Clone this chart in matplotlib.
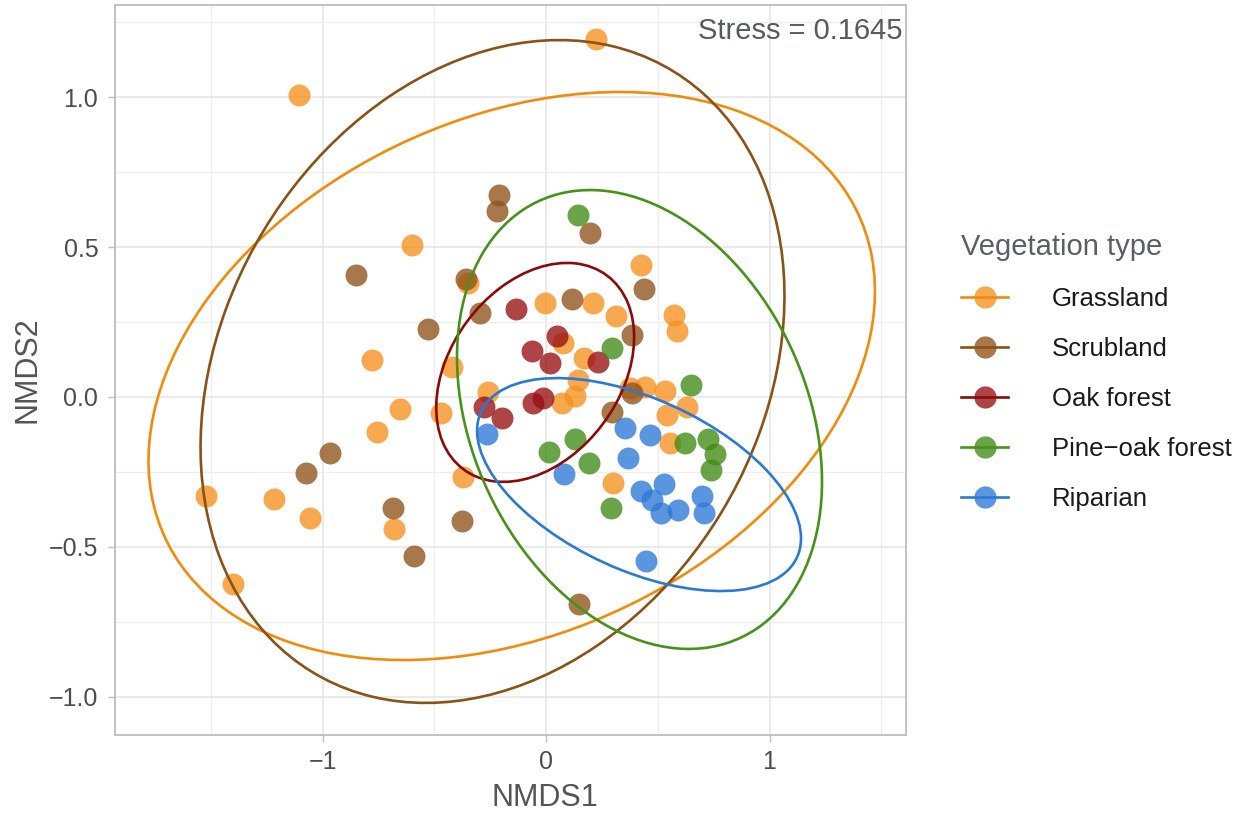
import numpy as np
import matplotlib.pyplot as plt
from matplotlib.patches import Ellipse
from matplotlib.lines import Line2D
from matplotlib.legend_handler import HandlerTuple
from matplotlib.ticker import MultipleLocator, FuncFormatter

plt.rcParams['font.family'] = ['Liberation Sans', 'DejaVu Sans']

groups = ['Grassland', 'Scrubland', 'Oak forest', 'Pine\u2212oak forest', 'Riparian']
line_colors = ['#F28A0C', '#8A5216', '#8B0A0A', '#46921A', '#2A7AD4']
point_colors = ['#F7901E', '#8F5218', '#990F12', '#3F8C14', '#2C78D6']

# NMDS scores
grass_x = [-1.105, 0.224, -0.60, -0.35, -0.779, -0.42, -0.653, -0.47, -0.756, -0.371,
           -0.26, -1.521, -1.217, -1.056, -0.68, -1.40, -0.004, 0.21, 0.313, 0.425,
           0.573, 0.586, 0.076, 0.17, 0.143, 0.07, 0.13, 0.376, 0.443, 0.532,
           0.541, 0.63, 0.555, 0.30]
grass_y = [1.007, 1.193, 0.507, 0.38, 0.123, 0.10, -0.04, -0.053, -0.117, -0.267,
           0.017, -0.33, -0.34, -0.403, -0.44, -0.623, 0.313, 0.313, 0.27, 0.44,
           0.273, 0.22, 0.18, 0.13, 0.057, -0.02, 0.003, 0.03, 0.033, 0.02,
           -0.06, -0.033, -0.153, -0.287]

scrub_x = [-0.21, -0.22, 0.197, -0.85, -0.358, -0.295, -0.528, 0.116, 0.439, 0.385,
           0.295, 0.385, -0.966, -1.074, -0.685, -0.376, -0.59, 0.148]
scrub_y = [0.673, 0.62, 0.547, 0.407, 0.393, 0.28, 0.227, 0.327, 0.36, 0.207,
           -0.05, 0.013, -0.187, -0.253, -0.37, -0.413, -0.53, -0.69]

oak_x = [-0.134, 0.049, -0.063, 0.018, 0.233, -0.058, -0.013, -0.277, -0.197]
oak_y = [0.293, 0.203, 0.153, 0.113, 0.117, -0.02, -0.003, -0.033, -0.07]

pine_x = [0.143, 0.295, 0.649, 0.13, 0.013, 0.192, 0.622, 0.725, 0.756, 0.738, 0.29]
pine_y = [0.607, 0.163, 0.04, -0.14, -0.183, -0.22, -0.153, -0.14, -0.19, -0.243, -0.37]

rip_x = [-0.264, 0.08, 0.353, 0.465, 0.367, 0.425, 0.528, 0.474, 0.515, 0.591,
         0.698, 0.707, 0.447]
rip_y = [-0.123, -0.257, -0.103, -0.127, -0.203, -0.313, -0.29, -0.343, -0.387, -0.377,
         -0.33, -0.387, -0.547]

# ellipse centre, x/y spread and covariance term (data units)
ell_cx = [-0.154, -0.24, -0.049, 0.418, 0.416]
ell_cy = [0.070, 0.085, 0.082, -0.075, -0.292]
ell_sx = [1.626, 1.307, 0.443, 0.817, 0.725]
ell_sy = [0.947, 1.105, 0.365, 0.765, 0.355]
ell_sxy = [0.459, 0.33, 0.052, -0.169, -0.130]

xs = [grass_x, scrub_x, oak_x, pine_x, rip_x]
ys = [grass_y, scrub_y, oak_y, pine_y, rip_y]

fig = plt.figure(figsize=(12.47, 8.14), dpi=100)
ax = fig.add_axes([115 / 1247, 1 - 735 / 814, 791 / 1247, 730 / 814])

for i in range(len(groups)):
    ax.scatter(xs[i], ys[i], s=250, color=point_colors[i], alpha=0.78,
               linewidths=0, zorder=3)

for i in range(len(groups)):
    cov = np.array([[ell_sx[i] ** 2, ell_sxy[i]], [ell_sxy[i], ell_sy[i] ** 2]])
    vals, vecs = np.linalg.eigh(cov)
    ang = np.degrees(np.arctan2(vecs[1, 1], vecs[0, 1]))
    ax.add_patch(Ellipse((ell_cx[i], ell_cy[i]), 2 * np.sqrt(vals[1]), 2 * np.sqrt(vals[0]),
                         angle=ang, fill=False, edgecolor=line_colors[i], lw=1.9, zorder=4))

ax.set_xlim(-1.93, 1.611)
ax.set_ylim(-1.127, 1.307)
ax.xaxis.set_major_locator(MultipleLocator(1))
ax.xaxis.set_minor_locator(MultipleLocator(0.5))
ax.yaxis.set_major_locator(MultipleLocator(0.5))
ax.yaxis.set_minor_locator(MultipleLocator(0.25))
ax.yaxis.set_major_formatter(FuncFormatter(lambda v, p: f'{v:.1f}'.replace('-', '\u2212')))
ax.grid(which='major', color='#E4E4E4', lw=1.1, zorder=0)
ax.grid(which='minor', color='#EEEEEE', lw=0.9, zorder=0)
ax.set_axisbelow(True)
for sp in ax.spines.values():
    sp.set_color('#BDBDBD')
    sp.set_linewidth(1.3)
ax.tick_params(which='major', length=5, width=1, color='#BDBDBD', labelsize=18,
               labelcolor='#4D4D4D')
ax.tick_params(axis='y', pad=7)
ax.tick_params(axis='x', pad=6)
ax.tick_params(which='minor', length=0)

ax.set_xlabel('NMDS1', fontsize=22, color='#555555')
ax.set_ylabel('NMDS2', fontsize=22, color='#555555')
ax.xaxis.set_label_coords(0.543, -0.066)
ax.yaxis.set_label_coords(-0.092, 0.5)

ax.text(0.996, 0.983, 'Stress = 0.1645', transform=ax.transAxes, ha='right', va='top',
        fontsize=21, color='#555a63')

handles = []
for i in range(len(groups)):
    dot = Line2D([], [], ls='none', marker='o', markersize=16, markeredgewidth=0,
                 markerfacecolor=point_colors[i], alpha=0.78)
    ln = Line2D([], [], color=line_colors[i], lw=1.9)
    handles.append((dot, ln))

leg = fig.legend(handles, groups, handler_map={tuple: HandlerTuple(ndivide=1, pad=0)},
                 loc='upper left', bbox_to_anchor=(948 / 1247, 1 - 220 / 814),
                 frameon=False, fontsize=18.5, title='Vegetation type',
                 title_fontsize=21, handlelength=1.85, handletextpad=1.7,
                 labelspacing=1.01, borderpad=0, alignment='left')
leg.get_title().set_color('#5a5e66')
for t in leg.get_texts():
    t.set_color('#1a1a1a')

fig.savefig('out.png', dpi=100)
